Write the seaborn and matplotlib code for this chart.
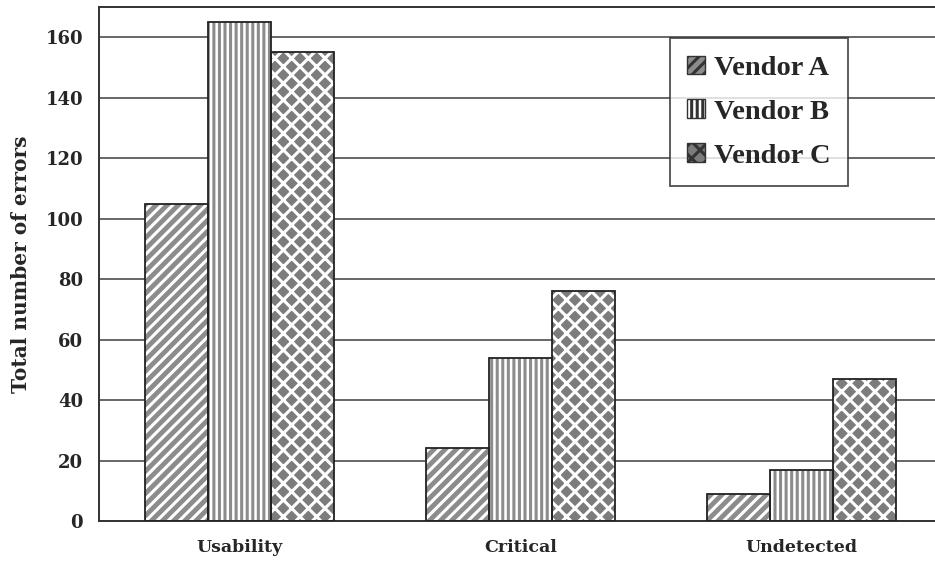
import pandas as pd
import matplotlib
matplotlib.use("Agg")
import matplotlib.pyplot as plt
import matplotlib.patches as mpatches
import seaborn as sns

# data
categories = ["Usability", "Critical", "Undetected"]
vendors = ["Vendor A", "Vendor B", "Vendor C"]
vendor_a = [105, 24, 9]
vendor_b = [165, 54, 17]
vendor_c = [155, 76, 47]

rows = []
for vendor, vals in zip(vendors, [vendor_a, vendor_b, vendor_c]):
    for cat, v in zip(categories, vals):
        rows.append({"Category": cat, "Vendor": vendor, "Errors": v})
df = pd.DataFrame(rows)

sns.set_style("white")
plt.rcParams["font.family"] = ["DejaVu Serif"]
plt.rcParams["hatch.linewidth"] = 2.2

# fill colour, hatch, hatch colour per vendor
styles = {
    "Vendor A": ("#8c8c8c", "///", "white"),
    "Vendor B": ("white", "|||", "#8c8c8c"),
    "Vendor C": ("#7c7c7c", "xx", "white"),
}

fig = plt.figure(figsize=(9.35, 5.61), dpi=100)
ax = fig.add_axes([0.1059, 0.0713, 0.9016, 0.916])

sns.barplot(data=df, x="Category", y="Errors", hue="Vendor", order=categories,
            hue_order=vendors, width=0.67, gap=0, ax=ax, legend=False)

# containers come out one per hue level
for vendor, cont in zip(vendors, ax.containers):
    fill, hatch, hcol = styles[vendor]
    for bar in cont:
        bar.set_facecolor(fill)
        bar.set_hatch(hatch)
        bar.set_edgecolor(hcol)
        bar.set_linewidth(0)
        outline = mpatches.Rectangle(bar.get_xy(), bar.get_width(), bar.get_height(),
                                     fill=False, edgecolor="#222222", linewidth=1.3, zorder=3)
        ax.add_patch(outline)

ax.set_ylim(0, 170)
ax.set_xlim(-0.5, 2.5)
ax.set_yticks(range(0, 161, 20))
ax.yaxis.grid(True, color="#666666", linewidth=1.4)
ax.set_axisbelow(True)

ax.set_xticks([0, 1, 2])
ax.set_xticklabels(categories, fontsize=12.5, fontweight="bold")
ax.set_xticks([-0.5, 0.5, 1.5, 2.5], minor=True)
ax.tick_params(axis="x", which="major", length=0, pad=13)
ax.tick_params(axis="x", which="minor", length=8, width=1.4, color="#333333", direction="out")
ax.tick_params(axis="y", length=8, width=1.4, color="#333333", direction="out", labelsize=13)
for lbl in ax.get_yticklabels():
    lbl.set_fontweight("bold")

ax.set_xlabel("")
ax.set_ylabel("Total number of errors", fontsize=14.5, fontweight="bold", labelpad=10)

for side in ["left", "bottom", "top", "right"]:
    ax.spines[side].set_color("#333333")
    ax.spines[side].set_linewidth(1.4)

handles = []
for vendor in vendors:
    fill, hatch, hcol = styles[vendor]
    handles.append(mpatches.Patch(facecolor=fill, hatch=hatch, edgecolor="#333333", label=vendor))
leg = ax.legend(handles=handles, loc="upper left", bbox_to_anchor=(0.677, 0.94),
                borderaxespad=0, frameon=True, fancybox=False, edgecolor="#333333",
                prop={"family": "Liberation Serif", "weight": "bold", "size": 20.5},
                handlelength=0.63, handleheight=0.63, handletextpad=0.3, labelspacing=0.65,
                borderpad=0.62)
leg.get_frame().set_linewidth(1.4)

fig.savefig("out.png", dpi=100)
